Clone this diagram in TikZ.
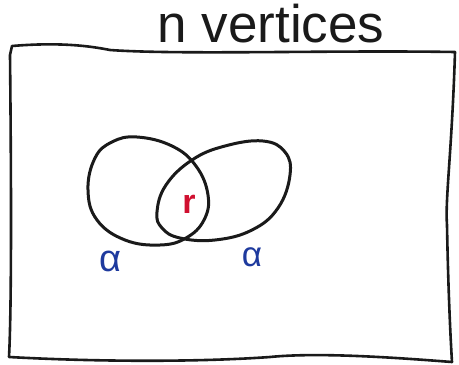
\documentclass[tikz,border=0pt]{standalone}
\usepackage{fontspec}
\setmainfont{Liberation Sans}
\definecolor{ink}{HTML}{1A1A1A}
\definecolor{penblue}{HTML}{1E3A9E}
\definecolor{penred}{HTML}{D01030}
\begin{document}
\begin{tikzpicture}[x=1pt,y=-1pt,
  pen/.style={draw=ink,line width=3pt,line cap=round,line join=round},
  frame/.style={draw=ink,line width=2.6pt,line cap=round,line join=round},
  title/.style={font=\fontsize{53}{60}\selectfont,text=ink,inner sep=0pt,anchor=base},
  lbl/.style={inner sep=0pt}]
\useasboundingbox[fill=white] (0,0) rectangle (459,365);
% frame
\coordinate (tl) at (12,46);
\coordinate (tr) at (455,52);
\coordinate (br) at (452,362);
\coordinate (bl) at (9,357);
\draw[frame] (tl) .. controls (60,42) and (90,46) .. (110,50)
  .. controls (180,55) and (330,50) .. (tr)
  .. controls (452,150) and (445,200) .. (447,225)
  .. controls (448,280) and (450,330) .. (br)
  .. controls (400,358) and (320,352) .. (270,357)
  .. controls (200,362) and (100,362) .. (bl)
  .. controls (12,300) and (11,150) .. (10,55) -- cycle;
% title
\node[title] (t) at (271,42) {n vertices};
% ellipses
\draw[pen] plot[smooth cycle,tension=0.7] coordinates {(137,137) (172,146) (196,166) (208,195) (204,220) (186,238) (160,245) (125,240) (97,220) (88,190) (95,158) (112,142)};
\draw[pen] plot[smooth cycle,tension=0.7] coordinates {(157,212) (166,185) (192,160) (225,146) (263,141) (285,152) (290,175) (278,208) (252,230) (215,240) (180,238) (162,228)};
% labels
\node[lbl,text=penred,font=\bfseries\fontsize{34}{36}\selectfont] (r) at (189,204) {r};
\node[lbl,text=penblue,font=\fontsize{38}{40}\selectfont] (a1) at (110,261) {α};
\node[lbl,text=penblue,font=\fontsize{35}{37}\selectfont] (a2) at (252,257) {α};
\end{tikzpicture}
\end{document}
